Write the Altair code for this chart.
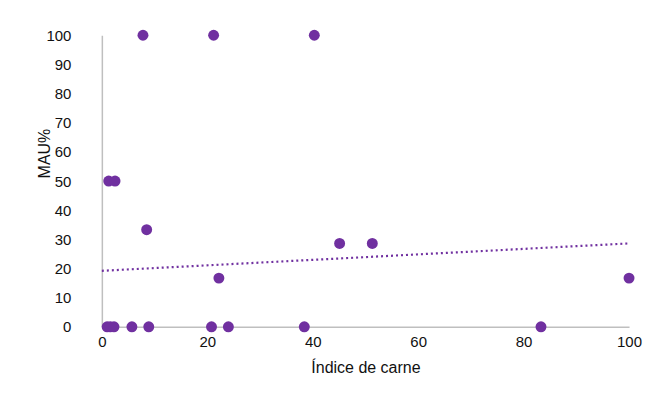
import altair as alt
import pandas as pd

# Data
indice_carne = [7.8, 21.2, 40.3, 1.3, 2.5, 8.5, 22.2, 45.1, 51.3, 100.0,
                1.0, 1.6, 2.3, 5.7, 8.9, 20.8, 24.0, 38.4, 83.3]
mau_pct = [100, 100, 100, 50, 50, 33.3, 16.7, 28.6, 28.6, 16.7,
           0, 0, 0, 0, 0, 0, 0, 0, 0]

# Trendline endpoints (as drawn in the reference)
trend_x = [0, 100]
trend_y = [19.2, 28.6]

# Tick values
x_ticks = [0, 20, 40, 60, 80, 100]
y_ticks = [0, 10, 20, 30, 40, 50, 60, 70, 80, 90, 100]

pts = pd.DataFrame({"x": indice_carne, "y": mau_pct})
trend = pd.DataFrame({"x": trend_x, "y": trend_y})

PURPLE = "#7030A0"
FONT = "Liberation Sans"

xscale = alt.Scale(domain=[0, 100], nice=False, zero=False)
yscale = alt.Scale(domain=[0, 100], nice=False, zero=False)

xaxis = alt.Axis(title="Índice de carne", values=x_ticks,
                 grid=False, ticks=False, domainColor="#bfbfbf", domainWidth=1.5,
                 labelPadding=8, labelFontSize=15, labelFont=FONT, labelColor="#111111",
                 labelOverlap=False,
                 titleFont=FONT, titleFontSize=16, titleFontWeight="normal",
                 titleColor="#111111", titlePadding=10, labelFlush=False)
yaxis = alt.Axis(title="MAU%", values=y_ticks,
                 grid=False, ticks=False, domainColor="#bfbfbf", domainWidth=1.5,
                 labelPadding=31, labelFontSize=15, labelFont=FONT, labelColor="#111111",
                 labelOverlap=False,
                 titleFont=FONT, titleFontSize=16, titleFontWeight="normal",
                 titleColor="#111111", titleAngle=270, titleAlign="center",
                 titleBaseline="middle", titleX=-57, titleY=118)

points = alt.Chart(pts).mark_circle(size=120, color=PURPLE, opacity=1).encode(
    x=alt.X("x:Q", scale=xscale, axis=xaxis),
    y=alt.Y("y:Q", scale=yscale, axis=yaxis),
)

line = alt.Chart(trend).mark_line(color=PURPLE, strokeDash=[2, 3], strokeWidth=2.2).encode(
    x=alt.X("x:Q", scale=xscale, axis=xaxis),
    y=alt.Y("y:Q", scale=yscale, axis=yaxis),
)

chart = alt.layer(line, points).properties(
    width=528, height=292,
    padding={"left": 94, "top": 27, "right": 20, "bottom": 50},
    autosize=alt.AutoSizeParams(type="none"),
    background="white",
).configure_view(stroke=None)

chart.save("out.html", embed_options={"renderer": "svg", "actions": False})
